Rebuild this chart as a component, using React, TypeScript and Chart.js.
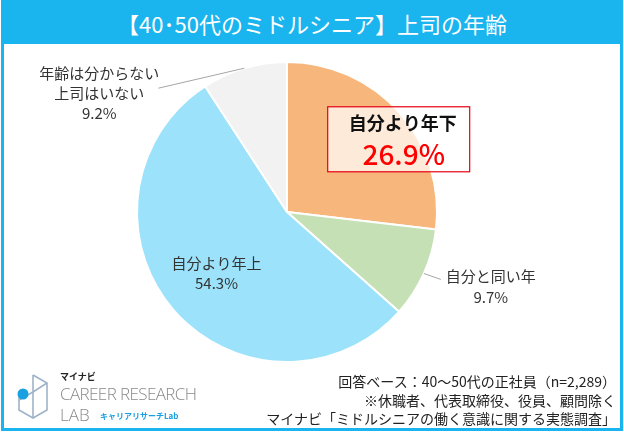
import { useEffect, useRef } from 'react';
import { Chart, registerables } from 'chart.js';

Chart.register(...registerables);

const FONT = '"Noto Sans CJK JP", "Noto Sans", sans-serif';

// slices, clockwise from 12 o'clock
const categories = ['自分より年下', '自分と同い年', '自分より年上', '年齢は分からない\n上司はいない'];
const shares = [26.9, 9.7, 54.3, 9.2];
const sliceColors = ['#F7B77C', '#C5E0B4', '#9BE2FA', '#F2F2F2'];

const footnotes = [
  '回答ベース：40～50代の正社員（n=2,289）',
  '※休職者、代表取締役、役員、顧問除く',
  'マイナビ「ミドルシニアの働く意識に関する実態調査」',
];

// label drawing, uses the arc geometry of each slice
const labelPlugin = {
  id: 'sliceLabels',
  afterDatasetsDraw(chart: any) {
    const ctx = chart.ctx;
    const meta = chart.getDatasetMeta(0);
    meta.data.forEach((arc: any, i: number) => {
      const { x, y, startAngle, endAngle, outerRadius } = arc.getProps(
        ['x', 'y', 'startAngle', 'endAngle', 'outerRadius'],
        true
      );
      const mid = (startAngle + endAngle) / 2;
      const at = (k: number) => ({
        x: x + Math.cos(mid) * outerRadius * k,
        y: y + Math.sin(mid) * outerRadius * k,
      });
      const lines = categories[i].split('\n');
      const pct = shares[i].toFixed(1) + '%';
      ctx.save();
      ctx.textAlign = 'center';
      ctx.textBaseline = 'middle';

      if (i === 0) {
        // boxed highlight
        const p = at(0.8);
        const cx = p.x + 22;
        const cy = p.y + 7;
        const w = 142;
        const h = 65;
        ctx.fillStyle = 'rgba(255,255,255,0.7)';
        ctx.fillRect(cx - w / 2, cy - h / 2, w, h);
        ctx.strokeStyle = '#E60012';
        ctx.lineWidth = 1.2;
        ctx.strokeRect(cx - w / 2, cy - h / 2, w, h);
        ctx.fillStyle = '#111';
        ctx.font = `bold 18px ${FONT}`;
        ctx.fillText(lines[0], cx + 4, cy - 16);
        ctx.fillStyle = '#FF0000';
        ctx.font = `500 28px ${FONT}`;
        ctx.fillText(pct, cx + 5, cy + 15);
      } else if (i === 2) {
        const p = at(0.62);
        ctx.fillStyle = '#333';
        ctx.font = `15px ${FONT}`;
        ctx.fillText(lines[0], p.x, p.y - 9);
        ctx.fillText(pct, p.x, p.y + 11);
      } else {
        const s = at(1);
        const e = i === 1 ? { x: s.x + 17, y: s.y + 6 } : { x: s.x - 86, y: s.y + 20 };
        ctx.strokeStyle = '#A6A6A6';
        ctx.lineWidth = 1;
        ctx.beginPath();
        ctx.moveTo(s.x, s.y);
        ctx.lineTo(e.x, e.y);
        ctx.stroke();
        ctx.fillStyle = '#333';
        ctx.font = `15px ${FONT}`;
        if (i === 1) {
          ctx.fillText(lines[0], e.x + 50, e.y - 3);
          ctx.fillText(pct, e.x + 50, e.y + 18);
        } else {
          const cx = e.x - 59;
          ctx.fillText(lines[0], cx, e.y - 15);
          ctx.fillText(lines[1], cx, e.y + 5);
          ctx.fillText(pct, cx, e.y + 25);
        }
      }
      ctx.restore();
    });
  },
};

function LabLogo() {
  return (
    <div style={{ position: 'absolute', left: 14, top: 370, width: 200, height: 56 }}>
      <svg width="34" height="52" viewBox="0 0 34 52" style={{ position: 'absolute', left: 2, top: 2 }}>
        <g fill="none" stroke="#9FB3C8" strokeWidth="1.6">
          <polyline points="17,3 31,11 31,38 17,46 3,38 3,24" />
          <polyline points="17,3 17,20 31,11" />
          <polyline points="17,20 3,28" />
          <polyline points="17,20 17,46" />
        </g>
        <circle cx="7" cy="22" r="5.5" fill="#1A9FE0" />
      </svg>
      <div style={{ position: 'absolute', left: 46, top: 0, fontSize: 9, fontWeight: 700, color: '#222' }}>マイナビ</div>
      <div style={{ position: 'absolute', left: 46, top: 12, fontSize: 17, color: '#8A8A8A', fontFamily: '"Open Sans", sans-serif', fontWeight: 300, letterSpacing: -0.6 }}>
        CAREER RESEARCH
      </div>
      <div style={{ position: 'absolute', left: 46, top: 33, fontSize: 17, color: '#8A8A8A', fontFamily: '"Open Sans", sans-serif', fontWeight: 300 }}>
        LAB
      </div>
      <div style={{ position: 'absolute', left: 86, top: 40, fontSize: 8, fontWeight: 700, color: '#1A9FE0' }}>
        キャリアリサーチLab
      </div>
    </div>
  );
}

export default function App() {
  const chartRef = useRef<HTMLCanvasElement>(null);
  const chartInstance = useRef<Chart | null>(null);

  useEffect(() => {
    document.body.style.margin = '0';
    if (!chartRef.current) return;
    if (chartInstance.current) chartInstance.current.destroy();

    chartInstance.current = new Chart(chartRef.current, {
      type: 'pie',
      data: {
        labels: categories,
        datasets: [
          {
            data: shares,
            backgroundColor: sliceColors,
            borderColor: '#FFFFFF',
            borderWidth: 2,
            hoverOffset: 0,
            offset: 0,
          },
        ],
      },
      options: {
        responsive: false,
        animation: false,
        events: [],
        layout: { padding: { left: 136, right: 186, top: 61, bottom: 69 } },
        plugins: {
          legend: { display: false },
          tooltip: { enabled: false },
        },
      },
      plugins: [labelPlugin],
    });

    return () => {
      if (chartInstance.current) {
        chartInstance.current.destroy();
        chartInstance.current = null;
      }
    };
  }, []);

  return (
    <div style={{ position: 'relative', width: 624, height: 432, background: '#fff', fontFamily: FONT, overflow: 'hidden' }}>
      <div
        style={{
          position: 'absolute',
          left: 1,
          top: 0,
          width: 622,
          height: 431,
          border: '3px solid #1AB5EE',
          boxSizing: 'border-box',
        }}
      />
      <div
        style={{
          position: 'absolute',
          left: 1,
          top: 0,
          width: 622,
          height: 44,
          background: '#1AB5EE',
          color: '#fff',
          fontSize: 22,
          lineHeight: '46px',
          textAlign: 'center',
        }}
      >
        【40･50代のミドルシニア】上司の年齢
      </div>
      <canvas ref={chartRef} width={624} height={432} style={{ position: 'absolute', left: 0, top: 0 }} />
      <LabLogo />
      <div
        style={{
          position: 'absolute',
          right: 8,
          top: 372,
          textAlign: 'right',
          fontSize: 14,
          lineHeight: '18.5px',
          color: '#222',
          whiteSpace: 'nowrap',
        }}
      >
        {footnotes.map((t) => (
          <div key={t}>{t}</div>
        ))}
      </div>
    </div>
  );
}
